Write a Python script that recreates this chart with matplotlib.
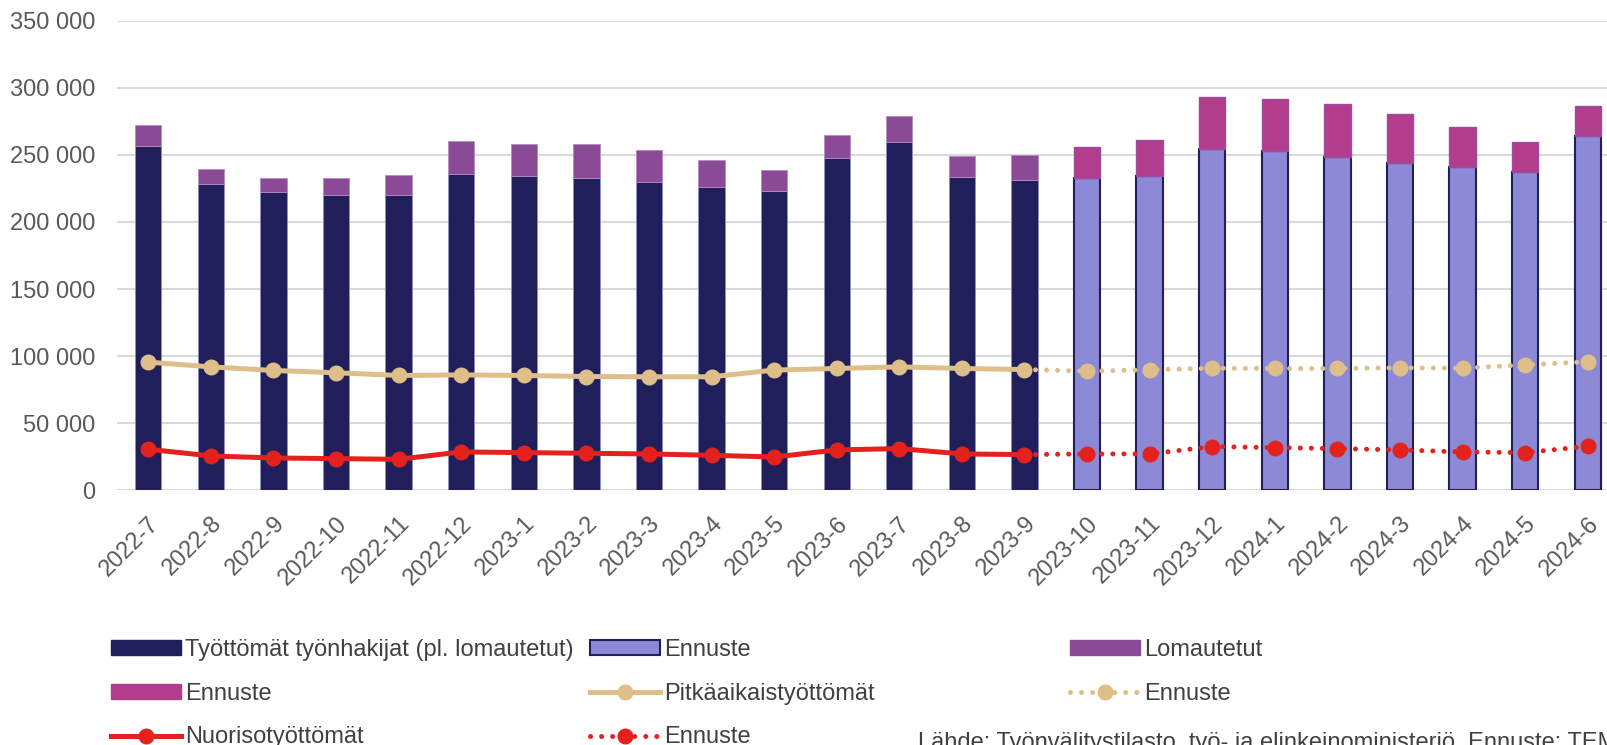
import numpy as np
import matplotlib.pyplot as plt
from matplotlib.lines import Line2D
from matplotlib.patches import Patch
from matplotlib.ticker import FuncFormatter

plt.rcParams['font.family'] = ['Liberation Sans', 'DejaVu Sans']

# data
months = ['2022-7', '2022-8', '2022-9', '2022-10', '2022-11', '2022-12',
          '2023-1', '2023-2', '2023-3', '2023-4', '2023-5', '2023-6',
          '2023-7', '2023-8', '2023-9', '2023-10', '2023-11', '2023-12',
          '2024-1', '2024-2', '2024-3', '2024-4', '2024-5', '2024-6']

unemployed = [256500, 228100, 222400, 220400, 219900, 235600, 234300, 232800,
              229800, 226100, 223400, 247800, 259400, 233600, 231100]
laid_off = [15900, 11200, 10400, 12200, 14900, 24800, 23900, 25400,
            24200, 19900, 15400, 17100, 19700, 15900, 18900]

unemployed_fc = [232800, 234300, 254200, 252700, 248500, 244300, 240800, 237500, 264400]
laid_off_fc = [22900, 26900, 38800, 38600, 39300, 36300, 30100, 22400, 21700]

long_term = [95500, 92000, 89300, 87600, 85600, 86000, 85600, 84800,
             84600, 84600, 89600, 90800, 92000, 90800, 90000]
long_term_fc = [88800, 89800, 91000, 90800, 90800, 91300, 91000, 93500, 95800]

youth = [30600, 25600, 24100, 23600, 23100, 28600, 28100, 27600,
         27100, 26100, 24800, 30100, 31100, 27100, 26600]
youth_fc = [27100, 27100, 32600, 31800, 31100, 30100, 28600, 28100, 32800]

navy = '#201F5B'
lavender = '#8C8AD6'
purple = '#8A4A96'
magenta = '#B13D8C'
tan = '#DEBF8A'
red = '#E3221E'

W, H = 1608, 745
fig = plt.figure(figsize=(W / 100, H / 100), dpi=100)
ax = fig.add_axes([117 / W, 1 - 490.3 / H, (1619 - 117) / W, (490.3 - 20.7) / H])

n = len(unemployed)
x = np.arange(len(months))
xa = x[:n]
xf = x[n:]
bw = 0.42

ax.bar(xa, unemployed, bw, color=navy, edgecolor='#8F8EC0', linewidth=0.6, zorder=2)
ax.bar(xa, laid_off, bw, bottom=unemployed, color=purple, edgecolor='#B58CC0',
       linewidth=0.6, zorder=2)
ax.bar(xf, unemployed_fc, bw, color=lavender, edgecolor=navy, linewidth=1.5, zorder=2)
ax.bar(xf, laid_off_fc, bw, bottom=unemployed_fc, color=magenta, edgecolor='#9A4C9E',
       linewidth=1.0, zorder=2)

lw = 3.6
ms = 10.5
dots = (0, (0.01, 2.2))

ax.plot(xa, long_term, color=tan, lw=lw, marker='o', ms=ms, zorder=4,
        solid_joinstyle='round')
ax.plot(np.r_[xa[-1], xf], [long_term[-1]] + long_term_fc, color=tan, lw=lw,
        linestyle=dots, dash_capstyle='round', zorder=3)
ax.plot(xf, long_term_fc, 'o', color=tan, ms=ms, zorder=4)

ax.plot(xa, youth, color=red, lw=lw, marker='o', ms=ms, zorder=4,
        solid_joinstyle='round')
ax.plot(np.r_[xa[-1], xf], [youth[-1]] + youth_fc, color=red, lw=lw,
        linestyle=dots, dash_capstyle='round', zorder=3)
ax.plot(xf, youth_fc, 'o', color=red, ms=ms, zorder=4)

ax.set_xlim(-0.5, len(months) - 0.5)
ax.set_ylim(0, 350000)
ax.set_yticks(range(0, 350001, 50000))
ax.yaxis.set_major_formatter(FuncFormatter(lambda v, p: f'{int(v):,}'.replace(',', ' ')))
ax.grid(axis='y', color='#D9D9D9', linewidth=1.5, zorder=0)
ax.set_axisbelow(True)
for s in ax.spines.values():
    s.set_visible(False)
ax.tick_params(axis='y', length=0, pad=15.8, labelsize=17, labelcolor='#595959')
ax.tick_params(axis='x', length=0, pad=16, labelsize=17, labelcolor='#595959')
ax.set_xticks(x)
ax.set_xticklabels(months, rotation=45, ha='right', va='top', rotation_mode='anchor')

# legend, three columns like the original
h_navy = Patch(facecolor=navy, edgecolor=navy)
h_lav = Patch(facecolor=lavender, edgecolor=navy, linewidth=1.5)
h_purple = Patch(facecolor=purple, edgecolor=purple)
h_mag = Patch(facecolor=magenta, edgecolor=magenta)
h_tan = Line2D([], [], color=tan, lw=lw, marker='o', ms=ms)
h_tan_fc = Line2D([], [], color=tan, lw=lw, linestyle=dots, dash_capstyle='round',
                  marker='o', ms=ms)
h_red = Line2D([], [], color=red, lw=lw, marker='o', ms=ms)
h_red_fc = Line2D([], [], color=red, lw=lw, linestyle=dots, dash_capstyle='round',
                  marker='o', ms=ms)

cols = [
    (111, [h_navy, h_mag, h_red], ['Työttömät työnhakijat (pl. lomautetut)', 'Ennuste', 'Nuorisotyöttömät']),
    (590, [h_lav, h_tan, h_red_fc], ['Ennuste', 'Pitkäaikaistyöttömät', 'Ennuste']),
    (1070, [h_purple, h_tan_fc], ['Lomautetut', 'Ennuste']),
]
for cx, hs, ls in cols:
    leg = fig.legend(hs, ls, loc='upper left', bbox_to_anchor=(cx / W, 1 - 639 / H),
                     frameon=False, fontsize=17, handlelength=2.95, handleheight=0.6,
                     handletextpad=0.2, labelspacing=0.92, borderpad=0, borderaxespad=0,
                     numpoints=1)
    for t in leg.get_texts():
        t.set_color('#404040')

fig.text(918 / W, 1 - 732 / H,
         'Lähde: Työnvälitystilasto, työ- ja elinkeinoministeriö. Ennuste: TEM',
         fontsize=17, color='#404040', va='top', ha='left')

fig.savefig('out.png', dpi=100)
